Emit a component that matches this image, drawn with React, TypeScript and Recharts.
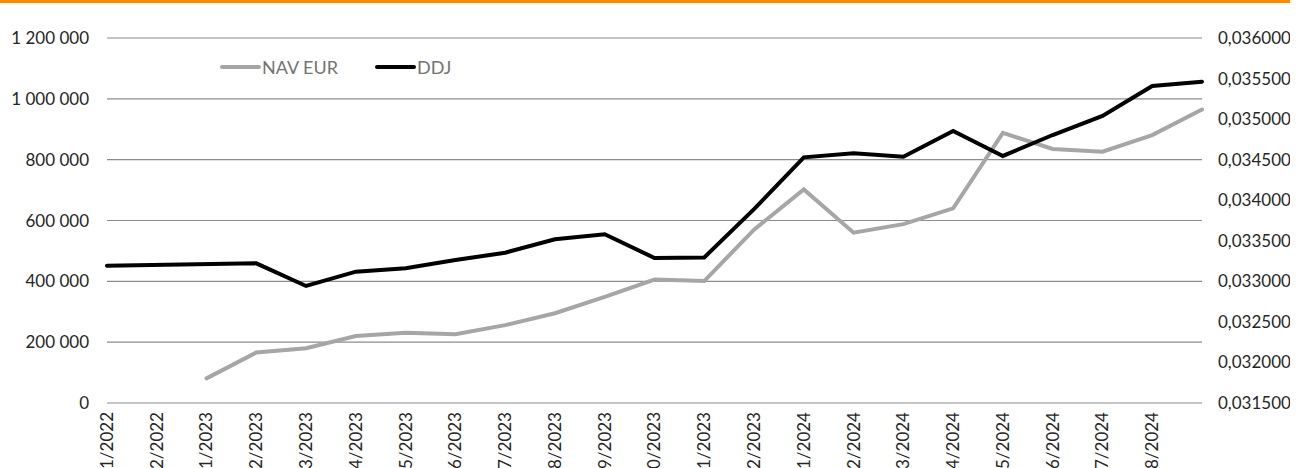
import React from 'react';
import { LineChart, Line, XAxis, YAxis, CartesianGrid, Legend } from 'recharts';

const categories = [
  '11/2022', '12/2022', '1/2023', '2/2023', '3/2023', '4/2023', '5/2023', '6/2023',
  '7/2023', '8/2023', '9/2023', '10/2023', '11/2023', '12/2023', '1/2024', '2/2024',
  '3/2024', '4/2024', '5/2024', '6/2024', '7/2024', '8/2024', '9/2024',
];

// NAV EUR (left axis)
const navEur: (number | null)[] = [
  null, null, 81000, 166000, 180000, 220000, 231000, 226000,
  256000, 295000, 349000, 406000, 401000, 570000, 702000, 560000,
  588000, 640000, 888000, 835000, 826000, 881000, 965000,
];

// DDJ (right axis)
const ddj: (number | null)[] = [
  0.033193, null, null, 0.033222, 0.032943, 0.033119, 0.033161, 0.033263,
  0.033353, 0.033518, 0.03358, 0.033288, 0.033295, 0.03389, 0.034529, 0.034579,
  0.034537, 0.034854, 0.034546, 0.034804, 0.035039, 0.035409, 0.035462,
];

const leftTicks = [0, 200000, 400000, 600000, 800000, 1000000, 1200000];
const rightTicks = [0.0315, 0.032, 0.0325, 0.033, 0.0335, 0.034, 0.0345, 0.035, 0.0355, 0.036];
const legendOrder = ['NAV EUR', 'DDJ'];

const data = categories.map((month, i) => ({ month, nav: navEur[i], ddj: ddj[i] }));

const FONT = 'Lato, "Noto Sans", sans-serif';

const fmtLeft = (v: number) => String(v).replace(/\B(?=(\d{3})+(?!\d))/g, ' ');
const fmtRight = (v: number) => v.toFixed(6).replace('.', ',');

const MonthTick = (props: any) => {
  const { x, y, payload, index } = props;
  if (index === categories.length - 1) return null;
  return (
    <text
      x={x}
      y={y}
      dy="0.35em"
      transform={`rotate(-90, ${x}, ${y})`}
      textAnchor="end"
      fontSize={17}
      fontFamily={FONT}
      fill="#262626"
    >
      {payload.value}
    </text>
  );
};

const LegendContent = (props: any) => {
  const items = [...(props.payload || [])].sort(
    (a: any, b: any) => legendOrder.indexOf(a.value) - legendOrder.indexOf(b.value)
  );
  return (
    <div style={{ display: 'flex', alignItems: 'center', fontFamily: FONT, fontSize: 18, color: '#737373' }}>
      {items.map((it: any, i: number) => (
        <div key={i} style={{ display: 'flex', alignItems: 'center', marginRight: 37 }}>
          <svg width={41} height={8} style={{ marginRight: 1 }}>
            <line x1={2} y1={4} x2={39} y2={4} stroke={it.color} strokeWidth={4} strokeLinecap="round" />
          </svg>
          <span>{it.value}</span>
        </div>
      ))}
    </div>
  );
};

export default function App() {
  return (
    <div style={{ position: 'absolute', left: 0, top: 0, width: 1290, height: 468, background: '#fff', overflow: 'hidden' }}>
      <div style={{ position: 'absolute', left: 0, top: 0, width: 1290, height: 3, background: '#ff8a00', zIndex: 2 }} />
      <LineChart width={1302} height={468} data={data} margin={{ top: 38, right: 0, bottom: 0, left: 0 }}>
        <CartesianGrid yAxisId="left" vertical={false} stroke="#8c8c8c" strokeWidth={1.2} />
        <XAxis
          dataKey="month"
          interval={0}
          axisLine={false}
          tickLine={false}
          tickSize={0}
          tickMargin={9}
          height={65}
          padding={{ left: 0, right: 0 }}
          tick={<MonthTick />}
        />
        <YAxis
          yAxisId="left"
          domain={[0, 1200000]}
          ticks={leftTicks}
          tickFormatter={fmtLeft}
          axisLine={false}
          tickLine={false}
          tickSize={0}
          tickMargin={18}
          width={107}
          tick={{ fontSize: 17, fontFamily: FONT, fill: '#262626' }}
        />
        <YAxis
          yAxisId="right"
          orientation="right"
          domain={[0.0315, 0.036]}
          ticks={rightTicks}
          tickFormatter={fmtRight}
          axisLine={false}
          tickLine={false}
          tickSize={0}
          tickMargin={16}
          width={100}
          tick={{ fontSize: 17, fontFamily: FONT, fill: '#262626', textAnchor: 'start' }}
        />
        <Legend
          verticalAlign="middle"
          align="center"
          layout="horizontal"
          content={<LegendContent />}
          wrapperStyle={{ position: 'absolute', left: 220, top: 56, width: 400, height: 22 }}
        />
        <Line
          yAxisId="left"
          type="linear"
          dataKey="nav"
          name="NAV EUR"
          stroke="#a6a6a6"
          strokeWidth={4}
          strokeLinecap="round"
          dot={false}
          activeDot={false}
          isAnimationActive={false}
        />
        <Line
          yAxisId="right"
          type="linear"
          dataKey="ddj"
          name="DDJ"
          stroke="#000000"
          strokeWidth={4}
          strokeLinecap="round"
          dot={false}
          activeDot={false}
          connectNulls
          isAnimationActive={false}
        />
      </LineChart>
    </div>
  );
}
